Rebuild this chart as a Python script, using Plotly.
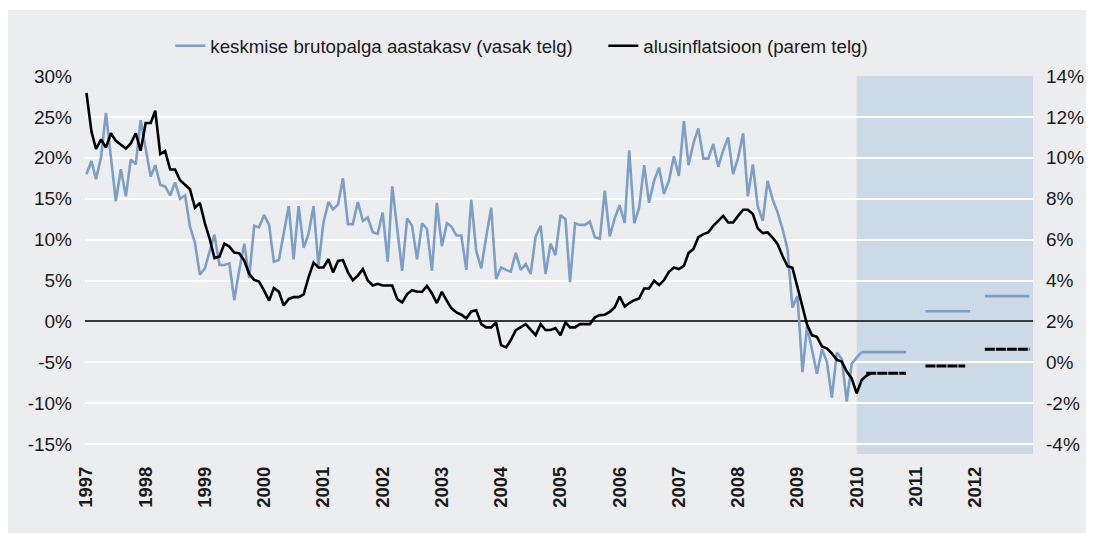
import pandas as pd
import plotly.graph_objects as go

# ---------------- data ----------------
wage_growth = [18.0, 19.6, 17.4, 20.1, 25.5, 19.7, 14.7, 18.6, 15.3, 19.8, 19.2, 24.6,
               21.3, 17.7, 19.1, 16.7, 16.5, 15.4, 17.0, 15.0, 15.4, 11.6, 9.6, 5.7,
               6.5, 8.7, 10.6, 6.9, 6.9, 7.1, 2.6, 6.3, 9.5, 5.3, 11.7, 11.5,
               13.0, 11.8, 7.3, 7.5, 11.0, 14.1, 7.6, 14.1, 9.0, 10.7, 14.1, 6.8,
               12.1, 14.6, 13.7, 14.3, 17.5, 11.9, 11.9, 14.6, 12.3, 12.7, 10.9, 10.7,
               13.3, 7.3, 16.5, 11.3, 6.2, 12.6, 11.7, 7.6, 12.0, 11.3, 6.2, 14.5,
               9.2, 12.0, 11.6, 10.5, 10.5, 6.3, 14.9, 8.6, 6.5, 10.3, 13.9, 5.2,
               6.6, 6.3, 6.1, 8.4, 6.3, 7.0, 5.8, 10.4, 11.7, 5.8, 9.5, 8.1,
               13.0, 12.5, 4.8, 12.0, 11.8, 11.8, 12.2, 10.3, 10.1, 16.0, 10.4, 12.6,
               14.2, 12.0, 20.9, 12.0, 13.9, 19.1, 14.5, 17.2, 18.8, 15.6, 17.2, 20.2,
               17.8, 24.5, 19.1, 21.8, 23.6, 19.9, 19.9, 21.7, 18.9, 20.9, 22.5, 18.0,
               20.0, 23.0, 15.3, 19.2, 14.1, 12.3, 17.2, 14.9, 13.3, 11.3, 8.8, 1.7,
               3.1, -6.2, -0.6, -3.5, -6.4, -3.4, -4.9, -9.3, -3.8, -4.6, -9.8, -5.2,
               -4.4, -3.75]

core_inflation = [13.17, 11.27, 10.43, 10.9, 10.5, 11.2, 10.83, 10.65, 10.45, 10.7, 11.2, 10.35,
                  11.7, 11.7, 12.3, 10.18, 10.33, 9.43, 9.43, 8.9, 8.7, 8.46, 7.56, 7.8,
                  6.8, 6.0, 5.1, 5.17, 5.8, 5.66, 5.37, 5.33, 4.97, 4.33, 4.03, 3.95,
                  3.51, 3.02, 3.63, 3.46, 2.78, 3.1, 3.19, 3.19, 3.32, 4.16, 4.88, 4.64,
                  4.64, 5.04, 4.4, 4.96, 5.0, 4.4, 4.02, 4.24, 4.56, 4.0, 3.76, 3.84,
                  3.76, 3.76, 3.76, 3.09, 2.93, 3.34, 3.53, 3.45, 3.45, 3.74, 3.37, 2.9,
                  3.45, 3.01, 2.64, 2.44, 2.33, 2.15, 2.49, 2.55, 1.87, 1.71, 1.71, 1.95,
                  0.84, 0.73, 1.09, 1.58, 1.71, 1.87, 1.6, 1.33, 1.87, 1.58, 1.58, 1.68,
                  1.33, 1.95, 1.71, 1.71, 1.87, 1.87, 1.87, 2.2, 2.31, 2.33, 2.47, 2.68,
                  3.22, 2.73, 2.9, 3.04, 3.12, 3.61, 3.61, 3.99, 3.78, 4.02, 4.43, 4.64,
                  4.56, 4.72, 5.34, 5.54, 6.12, 6.27, 6.35, 6.68, 6.92, 7.16, 6.84, 6.84,
                  7.16, 7.46, 7.46, 7.25, 6.55, 6.32, 6.35, 6.1, 5.78, 5.2, 4.7, 4.62,
                  3.68, 2.75, 1.85, 1.32, 1.25, 0.78, 0.69, 0.44, 0.12, 0.04, -0.45, -0.78,
                  -1.51, -0.86, -0.66, -0.53]

# forecasts (flat annual values)
wage_fc_start = ["2010-02-01", "2011-03-01", "2012-03-01"]
wage_fc_end = ["2010-11-01", "2011-12-01", "2012-12-01"]
wage_fc = [-3.75, 1.25, 3.1]

core_fc_start = ["2010-03-01", "2011-03-01", "2012-03-01"]
core_fc_end = ["2010-11-01", "2011-11-01", "2012-12-01"]
core_fc = [-0.53, -0.18, 0.64]

years = [str(y) for y in range(1997, 2013)]
left_tickvals = [-15, -10, -5, 0, 5, 10, 15, 20, 25, 30]
left_ticktext = ["-15%", "-10%", "-5%", "0%", "5%", "10%", "15%", "20%", "25%", "30%"]
right_tickvals = [-4, -2, 0, 2, 4, 6, 8, 10, 12, 14]
right_ticktext = ["-4%", "-2%", "0%", "2%", "4%", "6%", "8%", "10%", "12%", "14%"]

name_wage = "keskmise brutopalga aastakasv (vasak telg)"
name_core = "alusinflatsioon (parem telg)"

# ---------------- styles ----------------
BLUE = "#7B9FC7"
BLACK = "#000000"
PANEL = "#ECEDEF"
SHADE = "#CCD9E6"
FONT = "Liberation Sans, Arial, sans-serif"
TXT = "#1a1a1a"

wage_dates = pd.date_range("1997-01-01", periods=len(wage_growth), freq="MS")
core_dates = pd.date_range("1997-01-01", periods=len(core_inflation), freq="MS")

fig = go.Figure()

fig.add_trace(go.Scatter(x=wage_dates, y=wage_growth, mode="lines", name=name_wage,
                         line=dict(color=BLUE, width=2.6), legendgroup="w",
                         legendwidth=388))
for s, e, v in zip(wage_fc_start, wage_fc_end, wage_fc):
    fig.add_trace(go.Scatter(x=[s, e], y=[v, v], mode="lines", showlegend=False,
                             legendgroup="w", line=dict(color=BLUE, width=2.6)))

fig.add_trace(go.Scatter(x=core_dates, y=core_inflation, mode="lines", name=name_core,
                         yaxis="y2", line=dict(color=BLACK, width=2.6), legendgroup="c"))
for s, e, v in zip(core_fc_start, core_fc_end, core_fc):
    fig.add_trace(go.Scatter(x=[s, e], y=[v, v], mode="lines", showlegend=False,
                             yaxis="y2", legendgroup="c",
                             line=dict(color=BLACK, width=3, dash="10px,1px")))

x_range = ["1996-12-23", "2012-12-23"]

shapes = [
    dict(type="rect", xref="paper", yref="paper", x0=-0.0823, x1=1.060, y0=-0.209, y1=1.1746,
         fillcolor=PANEL, line=dict(width=0), layer="below"),
    dict(type="rect", xref="x", yref="paper", x0="2010-01-01", x1=x_range[1], y0=0, y1=1,
         fillcolor=SHADE, line=dict(width=0), layer="below"),
]

fig.update_layout(
    width=1094, height=534,
    margin=dict(l=77, r=69, t=68, b=88),
    paper_bgcolor="white",
    plot_bgcolor="rgba(0,0,0,0)",
    font=dict(family=FONT, size=18, color=TXT),
    shapes=shapes,
    showlegend=True,
    legend=dict(orientation="h", x=0.09, xanchor="left", y=1.079, yanchor="middle",
                bgcolor="rgba(0,0,0,0)", font=dict(size=18.7, family=FONT, color=TXT),
                itemwidth=30, tracegroupgap=0),
    xaxis=dict(type="date", range=x_range, tickvals=[f"{y}-01-01" for y in years],
               ticktext=[f"<b>{y}</b>" for y in years], tickangle=-90,
               tickfont=dict(size=18.5, family=FONT, color=TXT),
               showgrid=False, zeroline=False, showline=False, ticks="",
               ticklabelstandoff=8),
    yaxis=dict(range=[-16.2, 30], tickvals=left_tickvals, ticktext=left_ticktext,
               showgrid=True, gridcolor="white", gridwidth=2,
               zeroline=True, zerolinecolor="#3a3a3a", zerolinewidth=1.6,
               showline=False, ticks="", ticklabelstandoff=12,
               tickfont=dict(size=19, family=FONT, color=TXT)),
    yaxis2=dict(range=[-4.48, 14], overlaying="y", side="right",
                tickvals=right_tickvals, ticktext=right_ticktext,
                showgrid=False, zeroline=False, showline=False, ticks="",
                ticklabelstandoff=12,
                tickfont=dict(size=19, family=FONT, color=TXT)),
)

fig.write_html("out.html")
